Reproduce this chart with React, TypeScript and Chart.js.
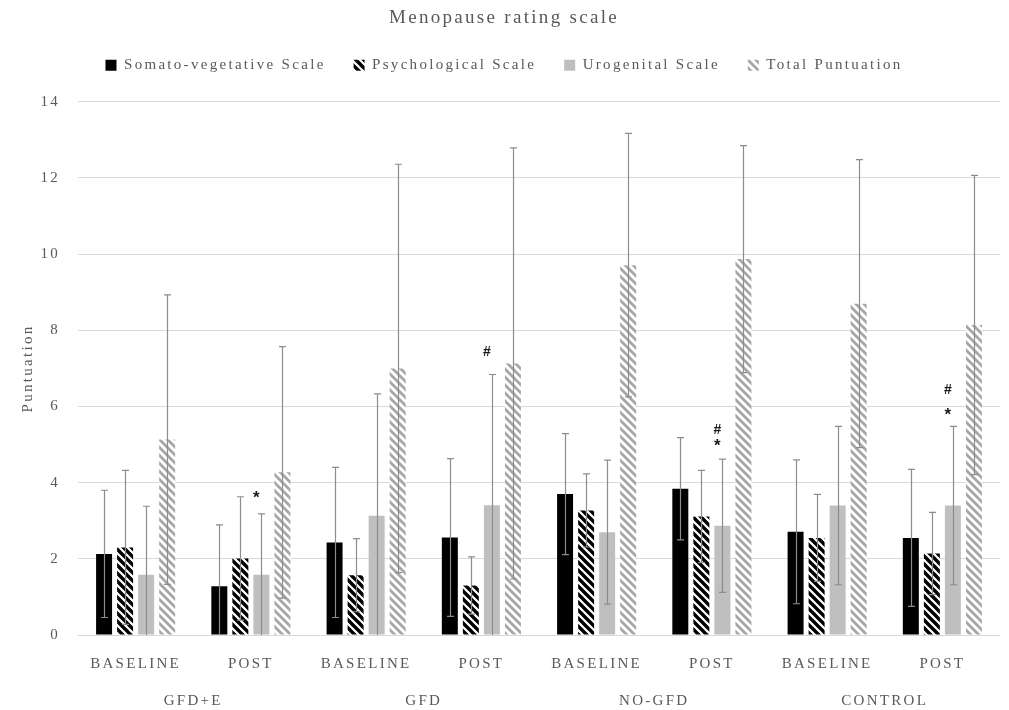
import React, { useEffect, useRef } from 'react';
import { Chart, registerables } from 'chart.js';

Chart.register(...registerables);

const categories = ['BASELINE', 'POST', 'BASELINE', 'POST', 'BASELINE', 'POST', 'BASELINE', 'POST'];
const groups = ['GFD+E', 'GFD', 'NO-GFD', 'CONTROL'];
const seriesNames = ['Somato-vegetative Scale', 'Psychological Scale', 'Urogenital Scale', 'Total Puntuation'];
const yTicks = [0, 2, 4, 6, 8, 10, 12, 14];

const somato = [2.13, 1.28, 2.43, 2.56, 3.70, 3.84, 2.71, 2.55];
const somatoSD = [1.67, 1.61, 1.97, 2.07, 1.59, 1.34, 1.89, 1.80];
const psych = [2.30, 2.01, 1.57, 1.30, 3.27, 3.11, 2.55, 2.14];
const psychSD = [2.02, 1.62, 0.96, 0.75, 0.96, 1.21, 1.14, 1.08];
const uro = [1.58, 1.58, 3.13, 3.41, 2.70, 2.87, 3.40, 3.40];
const uroSD = [1.80, 1.60, 3.20, 3.43, 1.89, 1.75, 2.08, 2.08];
const total = [5.13, 4.27, 7.00, 7.13, 9.71, 9.87, 8.70, 8.14];
const totalSD = [3.80, 3.30, 5.36, 5.66, 3.46, 2.98, 3.78, 3.93];

// significance markers placed above the Urogenital bars
const markerIndex = [1, 3, 5, 5, 7, 7];
const markerText = ['*', '#', '*', '#', '*', '#'];
const markerValue = [3.68, 7.43, 5.03, 5.38, 5.85, 6.43];

const TEXT = '#595959';
const SERIF = "'Liberation Serif', 'DejaVu Serif', serif";
const SPACING = '2.3px';

export default function App() {
  const ref = useRef<HTMLCanvasElement>(null);

  useEffect(() => {
    const canvas = ref.current as HTMLCanvasElement;
    const mainCtx = canvas.getContext('2d') as CanvasRenderingContext2D;

    const stripe = (color: string, lw: number) => {
      const t = document.createElement('canvas');
      t.width = 8;
      t.height = 8;
      const g = t.getContext('2d') as CanvasRenderingContext2D;
      g.fillStyle = '#ffffff';
      g.fillRect(0, 0, 8, 8);
      g.strokeStyle = color;
      g.lineWidth = lw;
      g.beginPath();
      g.moveTo(-2, -2); g.lineTo(10, 10);
      g.moveTo(-2, 6); g.lineTo(2, 10);
      g.moveTo(6, -2); g.lineTo(10, 2);
      g.stroke();
      return mainCtx.createPattern(t, 'repeat') as CanvasPattern;
    };

    const psychFill = stripe('#000000', 3.4);
    const totalFill = stripe('#A6A6A6', 2.8);

    const means = [somato, psych, uro, total];
    const sds = [somatoSD, psychSD, uroSD, totalSD];
    const fills: any[] = ['#000000', psychFill, '#BFBFBF', totalFill];

    const spacing = {
      id: 'letterSpacing',
      beforeUpdate(chart: any) { (chart.ctx as any).letterSpacing = SPACING; },
      beforeDraw(chart: any) { (chart.ctx as any).letterSpacing = SPACING; },
    };

    const errorBars = {
      id: 'errorBars',
      afterDatasetsDraw(chart: any) {
        const { ctx, chartArea: a, scales } = chart;
        const y = scales.y;
        ctx.save();
        ctx.beginPath();
        ctx.rect(a.left, a.top - 2, a.right - a.left, a.bottom - a.top + 2);
        ctx.clip();
        ctx.strokeStyle = '#8C8C8C';
        ctx.lineWidth = 1.2;
        means.forEach((m, d) => {
          const meta = chart.getDatasetMeta(d);
          meta.data.forEach((bar: any, i: number) => {
            const x = Math.round(bar.x) + 0.5;
            const top = y.getPixelForValue(m[i] + sds[d][i]);
            const bot = y.getPixelForValue(m[i] - sds[d][i]);
            ctx.beginPath();
            ctx.moveTo(x, top); ctx.lineTo(x, bot);
            ctx.moveTo(x - 3.5, top); ctx.lineTo(x + 3.5, top);
            ctx.moveTo(x - 3.5, bot); ctx.lineTo(x + 3.5, bot);
            ctx.stroke();
          });
        });
        ctx.restore();
      },
    };

    const markers = {
      id: 'markers',
      afterDatasetsDraw(chart: any) {
        const { ctx, scales } = chart;
        const meta = chart.getDatasetMeta(2);
        ctx.save();
        (ctx as any).letterSpacing = '0px';
        ctx.fillStyle = '#1a1a1a';
        ctx.textAlign = 'center';
        ctx.textBaseline = 'middle';
        markerIndex.forEach((idx, k) => {
          const bar = meta.data[idx];
          const x = bar.x - 5;
          const yy = scales.y.getPixelForValue(markerValue[k]);
          if (markerText[k] === '*') {
            ctx.font = "bold 17px 'Liberation Sans', Arial, sans-serif";
            ctx.fillText('*', x, yy + 3);
          } else {
            ctx.font = "bold 14px 'Liberation Sans', Arial, sans-serif";
            ctx.fillText('#', x, yy);
          }
        });
        ctx.restore();
      },
    };

    const chart = new Chart(canvas, {
      type: 'bar',
      data: {
        labels: categories,
        datasets: seriesNames.map((name, d) => ({
          label: name,
          data: means[d],
          backgroundColor: fills[d],
          borderWidth: 0,
          categoryPercentage: 0.73,
          barPercentage: 0.76,
          xAxisID: 'x',
          yAxisID: 'y',
        })),
      },
      options: {
        responsive: false,
        animation: false,
        devicePixelRatio: 1,
        layout: { padding: { left: 8, right: 9, top: 0, bottom: 0 } },
        plugins: {
          title: {
            display: true,
            text: 'Menopause rating scale',
            color: TEXT,
            font: { family: SERIF, size: 19, weight: 'normal' },
            padding: { top: 7, bottom: 0 },
          },
          subtitle: {
            display: true,
            text: ' ',
            weight: 500,
            font: { size: 10 },
            padding: { top: 0, bottom: 7 },
          },
          legend: {
            display: true,
            position: 'top',
            labels: {
              color: TEXT,
              font: { family: SERIF, size: 15 },
              boxWidth: 11,
              boxHeight: 11,
              padding: 28,
            },
          },
          tooltip: { enabled: false },
        },
        scales: {
          x: {
            type: 'category',
            position: 'bottom',
            grid: { display: false, drawTicks: false },
            border: { display: false },
            ticks: { color: TEXT, font: { family: SERIF, size: 15 }, padding: 20, maxRotation: 0, autoSkip: false },
            afterFit: (s: any) => { s.height = 40; },
          },
          x2: {
            type: 'category',
            position: 'bottom',
            labels: groups,
            offset: true,
            grid: { display: false, drawTicks: false },
            border: { display: false },
            ticks: { color: TEXT, font: { family: SERIF, size: 15 }, padding: 17, maxRotation: 0, autoSkip: false },
            afterFit: (s: any) => { s.height = 35; },
          },
          y: {
            min: 0,
            max: 14,
            afterBuildTicks: (s: any) => { s.ticks = yTicks.map((v) => ({ value: v })); },
            grid: { color: '#D9D9D9', drawTicks: false },
            border: { display: false },
            ticks: { color: TEXT, font: { family: SERIF, size: 15 }, padding: 18 },
            title: {
              display: true,
              text: 'Puntuation',
              color: TEXT,
              font: { family: SERIF, size: 15 },
              padding: { top: 11, bottom: 0 },
            },
            afterFit: (s: any) => { s.width = 70; },
          },
        },
      },
      plugins: [spacing, errorBars, markers],
    } as any);

    return () => chart.destroy();
  }, []);

  return (
    <canvas
      ref={ref}
      width={1009}
      height={710}
      style={{ position: 'fixed', left: 0, top: 0, width: 1009, height: 710, display: 'block' }}
    />
  );
}
